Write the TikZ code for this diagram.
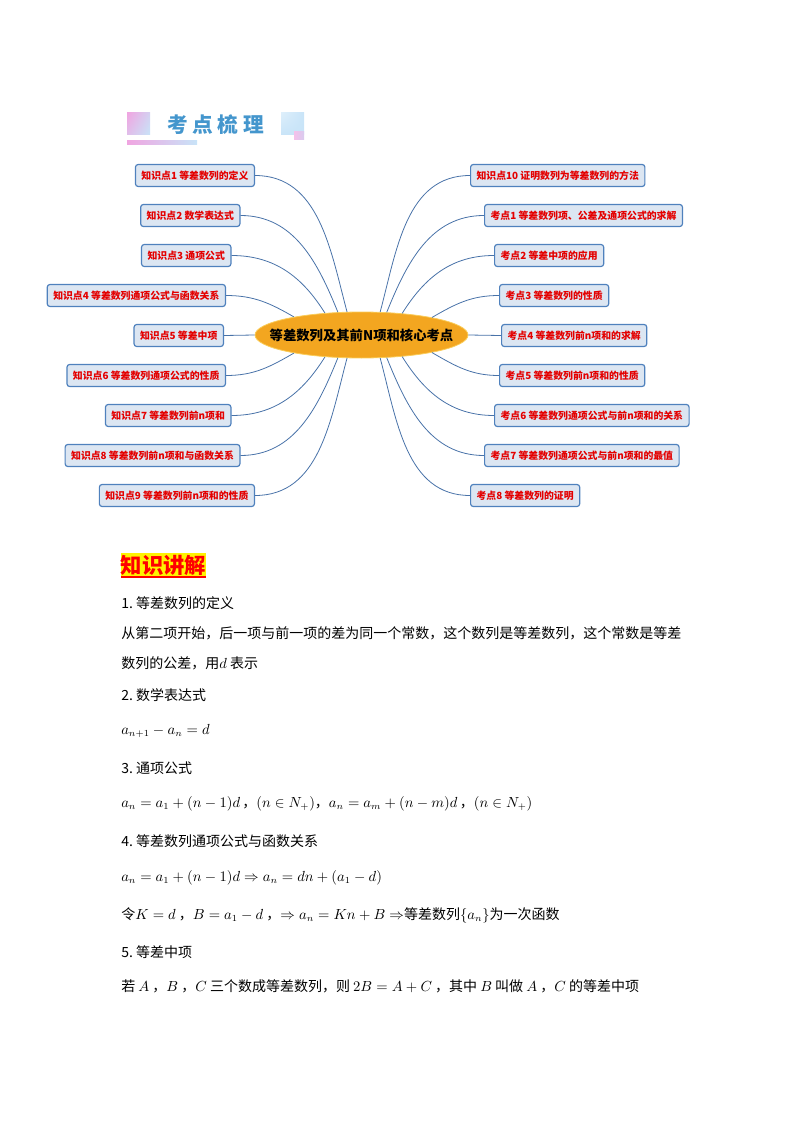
\documentclass[tikz,border=0pt]{standalone}
\usepackage{fontspec}
\newfontfamily\cjk{Noto Sans CJK SC}
\usetikzlibrary{positioning,shapes.geometric,shadings}

\definecolor{boxline}{RGB}{79,129,189}
\definecolor{boxfill}{RGB}{220,230,242}
\definecolor{boxred}{RGB}{228,0,0}
\definecolor{linkblue}{RGB}{72,114,168}
\definecolor{hubfill}{RGB}{243,166,32}
\definecolor{hubline}{RGB}{250,205,90}
\definecolor{titleblue}{RGB}{68,150,205}
\definecolor{decopink}{RGB}{240,165,225}
\definecolor{decoblue}{RGB}{200,228,248}

\begin{document}
\begin{tikzpicture}[x=0.75pt, y=0.75pt,
  kp/.style={draw=boxline, fill=boxfill, line width=0.9pt, rounded corners=2pt,
             minimum height=16.5pt, inner xsep=4.5pt, inner ysep=0pt,
             text=boxred, font=\cjk\bfseries\fontsize{7.4}{8}\selectfont},
  lk/.style={draw=linkblue, line width=0.6pt},
  txt/.style={anchor=west, inner sep=0pt, font=\cjk\fontsize{10.5}{12}\selectfont}]
  \useasboundingbox (0,0) rectangle (794,-1123);

  % heading
  \shade[upper left=decopink, lower right=decoblue, upper right=decoblue!70!decopink,
         lower left=decopink!60!decoblue] (127,-113) rectangle (150,-135);
  \shade[left color=decopink, right color=decoblue] (127,-141) rectangle (197,-145);
  \shade[upper left=decoblue!60!white, lower right=decoblue, upper right=decoblue,
         lower left=decoblue] (281,-113) rectangle (304,-135);
  \shade[left color=decopink!70!white, right color=decopink!40!decoblue] (294,-132) rectangle (304,-140);
  \node[text=titleblue, font=\cjk\bfseries\fontsize{15.5}{18}\selectfont] (title) at (215.5,-125)
    {考\hspace{3.5pt}点\hspace{3.5pt}梳\hspace{3.5pt}理};

  % hub
  \node[ellipse, fill=hubfill, draw=hubline, line width=0.6pt, inner sep=0pt,
        minimum width=159.75pt, minimum height=34.5pt,
        font=\cjk\bfseries\fontsize{10}{12}\selectfont] (C) at (361.5,-335)
    {\makebox[0pt][c]{等差数列及其前N项和核心考点}};

  % left branches
  \node[kp, anchor=east] (L1) at (255,-175.5) {知识点1 等差数列的定义};
  \node[kp, anchor=east] (L2) at (240.5,-215.5) {知识点2 数学表达式};
  \node[kp, anchor=east] (L3) at (231.5,-255.5) {知识点3 通项公式};
  \node[kp, anchor=east] (L4) at (226,-295.5) {知识点4 等差数列通项公式与函数关系};
  \node[kp, anchor=east] (L5) at (224,-335.5) {知识点5 等差中项};
  \node[kp, anchor=east] (L6) at (226,-375.5) {知识点6 等差数列通项公式的性质};
  \node[kp, anchor=east] (L7) at (231.5,-415.5) {知识点7 等差数列前n项和};
  \node[kp, anchor=east] (L8) at (240.5,-455.5) {知识点8 等差数列前n项和与函数关系};
  \node[kp, anchor=east] (L9) at (255,-495.5) {知识点9 等差数列前n项和的性质};

  % right branches
  \node[kp, anchor=west] (R1) at (470,-175.5) {知识点10 证明数列为等差数列的方法};
  \node[kp, anchor=west] (R2) at (484,-215.5) {考点1 等差数列项、公差及通项公式的求解};
  \node[kp, anchor=west] (R3) at (494,-255.5) {考点2 等差中项的应用};
  \node[kp, anchor=west] (R4) at (499,-295.5) {考点3 等差数列的性质};
  \node[kp, anchor=west] (R5) at (501,-335.5) {考点4 等差数列前n项和的求解};
  \node[kp, anchor=west] (R6) at (499,-375.5) {考点5 等差数列前n项和的性质};
  \node[kp, anchor=west] (R7) at (494,-415.5) {考点6 等差数列通项公式与前n项和的关系};
  \node[kp, anchor=west] (R8) at (484,-455.5) {考点7 等差数列通项公式与前n项和的最值};
  \node[kp, anchor=west] (R9) at (470,-495.5) {考点8 等差数列的证明};

  \draw[lk] (L1.east) to[out=0, in=105] (C.122);
  \draw[lk] (L2.east) to[out=0, in=112] (C.136);
  \draw[lk] (L3.east) to[out=0, in=122] (C.149);
  \draw[lk] (L4.east) to[out=0, in=150] (C.165);
  \draw[lk] (L5.east) -- (C.west);
  \draw[lk] (L6.east) to[out=0, in=-150] (C.-165);
  \draw[lk] (L7.east) to[out=0, in=-122] (C.-149);
  \draw[lk] (L8.east) to[out=0, in=-112] (C.-136);
  \draw[lk] (L9.east) to[out=0, in=-105] (C.-122);

  \draw[lk] (R1.west) to[out=180, in=75] (C.51);
  \draw[lk] (R2.west) to[out=180, in=68] (C.42);
  \draw[lk] (R3.west) to[out=180, in=58] (C.28);
  \draw[lk] (R4.west) to[out=180, in=30] (C.14);
  \draw[lk] (R5.west) -- (C.east);
  \draw[lk] (R6.west) to[out=180, in=-30] (C.-14);
  \draw[lk] (R7.west) to[out=180, in=-58] (C.-28);
  \draw[lk] (R8.west) to[out=180, in=-68] (C.-42);
  \draw[lk] (R9.west) to[out=180, in=-75] (C.-51);

  % lecture notes
  \node[fill=yellow, text=red, inner xsep=0pt, inner ysep=0pt, minimum height=18.75pt,
        font=\cjk\bfseries\fontsize{16}{18}\selectfont] (kj) at (163.5,-565.5) {知识讲解};
  \draw[red, line width=1pt] (121,-577) -- (206,-577);

  \node[txt] (t1) at (121,-603) {1.\ 等差数列的定义};
  \node[txt] (t2) at (121,-633) {从第二项开始，后一项与前一项的差为同一个常数，这个数列是等差数列，这个常数是等差};
  \node[txt] (t3) at (121,-663) {数列的公差，用$d$ 表示};
  \node[txt] (t4) at (121,-695) {2.\ 数学表达式};
  \node[txt] (t5) at (121,-731) {$a_{n+1}-a_n=d$};
  \node[txt] (t6) at (121,-768) {3.\ 通项公式};
  \node[txt] (t7) at (121,-804) {$a_n=a_1+(n-1)d$\,，$(n\in N_+)$，$a_n=a_m+(n-m)d$\,，$(n\in N_+)$};
  \node[txt] (t8) at (121,-841) {4.\ 等差数列通项公式与函数关系};
  \node[txt] (t9) at (121,-878) {$a_n=a_1+(n-1)d\Rightarrow a_n=dn+(a_1-d)$};
  \node[txt] (t10) at (121,-915) {令$K=d$ ，$B=a_1-d$ ，$\Rightarrow a_n=Kn+B\Rightarrow$等差数列$\{a_n\}$为一次函数};
  \node[txt] (t11) at (121,-952) {5.\ 等差中项};
  \node[txt] (t12) at (121,-986) {若 $A$ ，$B$ ，$C$ 三个数成等差数列，则 $2B=A+C$ ，其中 $B$ 叫做 $A$ ，$C$ 的等差中项};
\end{tikzpicture}
\end{document}
